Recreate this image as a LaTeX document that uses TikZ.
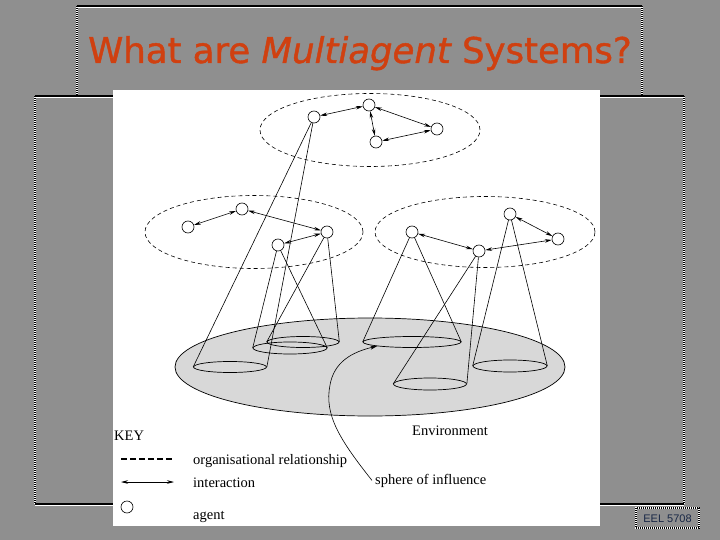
\documentclass[tikz,border=0pt]{standalone}
\usepackage{fontspec}
\setmainfont{Liberation Serif}
\newfontfamily\titlefont[FakeBold=1.2]{DejaVu Sans}
\newfontfamily\eelfont{Liberation Sans}
\usetikzlibrary{shapes.geometric,arrows.meta}
\definecolor{slidegray}{RGB}{143,143,143}
\definecolor{envgray}{RGB}{216,216,216}
\definecolor{titlered}{RGB}{208,64,16}
\definecolor{eelblue}{RGB}{25,40,70}
\tikzset{
  agent/.style={circle,draw,fill=white,minimum size=12pt,inner sep=0pt,line width=0.6pt},
  group/.style={ellipse,draw,dash pattern=on 4pt off 3pt,line width=0.6pt,inner sep=0pt},
  sphere/.style={ellipse,draw,line width=0.7pt,inner sep=0pt},
  interact/.style={{Stealth[length=7pt,width=3.5pt]}-{Stealth[length=7pt,width=3.5pt]},line width=0.6pt},
  cone/.style={line width=0.6pt},
  keytext/.style={anchor=base west,inner sep=0pt,font=\fontsize{14.5}{16}\selectfont},
  sideline/.style={line width=1.2pt,white,postaction={draw=black,dash pattern=on 1pt off 1pt}},
  topline/.style={line width=1.2pt,black,postaction={draw=white,line width=0.6pt,transform canvas={yshift=-1pt}}}
}
\begin{document}
\begin{tikzpicture}[x=1pt,y=-1pt]
  \useasboundingbox (0,0) rectangle (720,540);
  \fill[slidegray] (0,0) rectangle (720,540);
  \draw[sideline] (77,6) -- (77,96);
  \draw[sideline] (642,6) -- (642,96);
  \draw[topline] (77,6) -- (642,6);
  \draw[sideline] (35,96) -- (35,504);
  \draw[sideline] (684,96) -- (684,504);
  \draw[topline] (35,96) -- (684,96);
  \draw[topline] (35,504) -- (684,504);
  \node[font=\titlefont\fontsize{35.5}{40}\selectfont,text=titlered,anchor=base] (title) at (360,63)
    {What are {\itshape Multiagent} Systems?};
  \fill[white] (113,90) rectangle (600,526);
  \node[ellipse,draw,fill=envgray,minimum width=390pt,minimum height=98pt,line width=0.7pt] (env) at (370,367) {};
  \draw
    (230,367) node[sphere,minimum width=73pt,minimum height=11pt] (s1){}
    (290,348) node[sphere,minimum width=74pt,minimum height=12pt] (s2){}
    (303,342) node[sphere,minimum width=72pt,minimum height=11pt] (s3){}
    (412,342) node[sphere,minimum width=98pt,minimum height=11pt] (s4){}
    (430,384) node[sphere,minimum width=73pt,minimum height=12pt] (s5){}
    (510,366) node[sphere,minimum width=74pt,minimum height=12pt] (s6){};
  \draw
    (370,130) node[group,minimum width=220pt,minimum height=73pt] (g1){}
    (254,232) node[group,minimum width=218pt,minimum height=73pt] (g2){}
    (485,232) node[group,minimum width=220pt,minimum height=71pt] (g3){};
  \draw
    (314,117) node[agent] (t1){}
    (369,105) node[agent] (t2){}
    (437,129) node[agent] (t3){}
    (376,142) node[agent] (t4){}
    (188,227) node[agent] (l1){}
    (242,209) node[agent] (l2){}
    (327,232) node[agent] (l3){}
    (278,245) node[agent] (l4){}
    (412,232) node[agent] (r1){}
    (510,214) node[agent] (r2){}
    (558,239) node[agent] (r3){}
    (479,251) node[agent] (r4){};
  \begin{scope}[interact]
    \draw (t1) to (t2);
    \draw (t2) to (t3);
    \draw (t2) to (t4);
    \draw (t4) to (t3);
    \draw (l1) to (l2);
    \draw (l2) to (l3);
    \draw (l4) to (l3);
    \draw (r1) to (r4);
    \draw (r4) to (r3);
    \draw (r2) to (r3);
  \end{scope}
  \begin{scope}[cone]
    \draw (t1) to (s1.west);
    \draw (t1) to (s1.east);
    \draw (l4) to (s2.west);
    \draw (l4) to (s2.east);
    \draw (l3) to (s3.west);
    \draw (l3) to (s3.east);
    \draw (r1) to (s4.west);
    \draw (r1) to (s4.east);
    \draw (r4) to (s5.west);
    \draw (r4) to (s5.east);
    \draw (r2) to (s6.west);
    \draw (r2) to (s6.east);
  \end{scope}
  \node[keytext] (env label) at (412,435) {Environment};
  \node[keytext,inner sep=3pt] (soi) at (372,484) {sphere of influence};
  \draw[line width=0.6pt,-{Stealth[length=7pt,width=4pt]}] (soi.west) .. controls (340,440) and (324,415) .. (330,385)
    .. controls (334,362) and (352,352) .. (s4.south west);
  \node[keytext] (key) at (114,440) {KEY};
  \coordinate (d1) at (121,459);
  \coordinate (d2) at (174,459);
  \draw[line width=1.2pt,dash pattern=on 6pt off 3pt] (d1) -- (d2);
  \node[keytext] (org) at (193,464) {organisational relationship};
  \coordinate (i1) at (121,482);
  \coordinate (i2) at (174,482);
  \draw[interact] (i1) -- (i2);
  \node[keytext] (inter) at (193,487) {interaction};
  \node[agent] (ka) at (127,507) {};
  \node[keytext] (ag) at (193,519) {agent};
  \fill[slidegray] (636,508) rectangle (699,528);
  \draw[sideline] (636,508) rectangle (699,528);
  \node[font=\eelfont\fontsize{11}{12}\selectfont,text=eelblue] (eel) at (667.5,518.5) {EEL 5708};
\end{tikzpicture}
\end{document}
